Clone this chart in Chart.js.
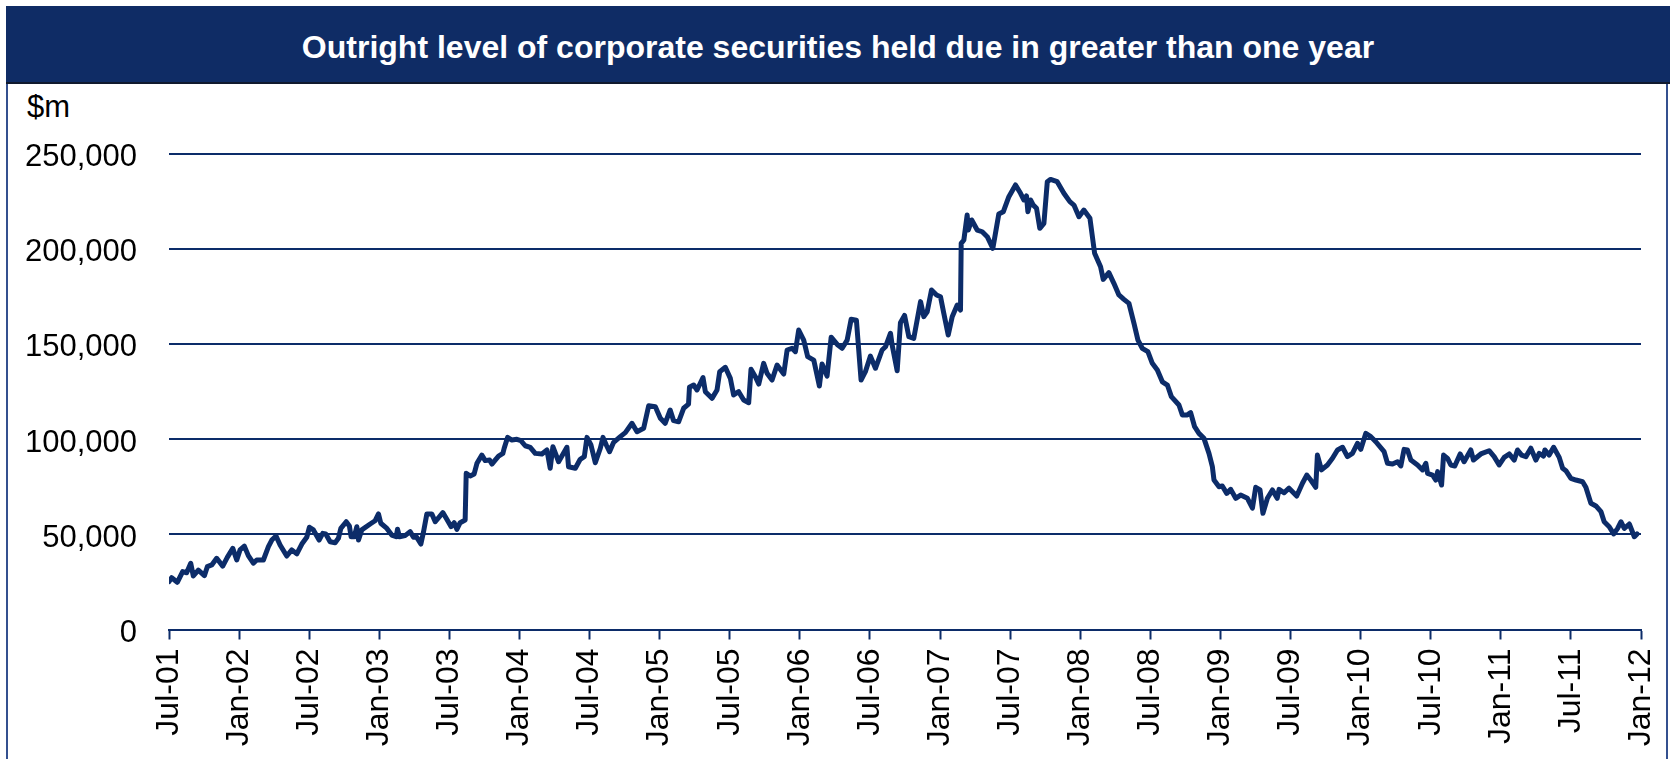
<!DOCTYPE html>
<html>
<head>
<meta charset="utf-8">
<script src="https://cdn.jsdelivr.net/npm/chart.js@4.4.0/dist/chart.umd.min.js"></script>
<style>
    body { margin: 0; background: #fff; width: 1676px; height: 759px; overflow: hidden; position: relative; font-family: 'Liberation Sans', Arial, sans-serif; }
    #frame { position: absolute; left: 6px; top: 6px; width: 1662px; height: 780px; border: 2px solid #34508f; box-sizing: border-box; }
    #titleBar { position: absolute; left: 6px; top: 6px; width: 1664px; height: 78px; padding-top: 6px; background: #0f2c65; border-bottom: 2px solid #111a2e; box-sizing: border-box; color: #fff; font-weight: bold; font-size: 32px; text-align: center; line-height: 70px; }
    #unit { position: absolute; left: 27px; top: 89px; font-size: 31px; color: #000; }
    #chartBox { position: absolute; left: 0; top: 85px; width: 1676px; height: 674px; }
</style>
</head>
<body>
<div id="frame"></div>
<div id="titleBar">Outright level of corporate securities held due in greater than one year</div>
<div id="unit">$m</div>
<div id="chartBox"><canvas id="corpChart"></canvas></div>
<script>
// months since Jul-01 for each reading
var months = [
    0.00, 0.23, 0.71, 1.17, 1.51, 1.86, 2.08, 2.51, 3.03, 3.28, 3.66, 4.08, 4.60, 4.99, 5.46, 5.80,
    6.08, 6.45, 6.79, 7.22, 7.51, 8.08, 8.51, 8.80, 9.16, 9.51, 10.08, 10.51, 10.94, 11.37, 11.79,
    12.02, 12.36, 12.85, 13.16, 13.42, 13.79, 14.22, 14.50, 14.71, 15.17, 15.44, 15.59, 15.85, 16.08,
    16.22, 16.50, 17.22, 17.64, 17.93, 18.13, 18.65, 19.07, 19.45, 19.56, 19.73, 20.21, 20.64, 20.93,
    21.21, 21.56, 21.79, 22.07, 22.50, 22.79, 23.44, 23.78, 24.15, 24.41, 24.64, 24.92, 25.35, 25.44,
    25.78, 26.12, 26.36, 26.78, 27.07, 27.44, 27.64, 27.92, 28.21, 28.58, 28.69, 28.98, 29.35, 29.78,
    30.12, 30.49, 30.92, 31.35, 31.92, 32.35, 32.63, 32.86, 33.35, 34.06, 34.20, 34.78, 35.20, 35.55,
    35.78, 36.12, 36.49, 36.92, 37.15, 37.43, 37.71, 38.06, 38.63, 39.06, 39.63, 40.06, 40.63, 41.06,
    41.63, 42.06, 42.47, 42.90, 43.19, 43.62, 44.05, 44.47, 44.55, 44.91, 45.20, 45.71, 45.91, 46.48,
    46.91, 47.14, 47.62, 48.05, 48.33, 48.76, 49.19, 49.62, 49.82, 50.19, 50.48, 50.90, 51.19, 51.62,
    52.05, 52.62, 52.91, 53.33, 53.62, 53.90, 54.33, 54.67, 55.19, 55.67, 55.90, 56.33, 56.68, 57.25,
    57.62, 58.05, 58.39, 58.84, 59.24, 59.61, 60.04, 60.47, 61.04, 61.33, 61.76, 61.90, 62.33, 62.61,
    62.96, 63.33, 63.75, 64.33, 64.61, 64.90, 65.27, 65.70, 66.04, 66.32, 66.70, 67.04, 67.47, 67.75,
    67.81, 68.04, 68.32, 68.42, 68.71, 69.18, 69.61, 70.04, 70.52, 71.03, 71.41, 71.89, 72.46, 72.89,
    73.17, 73.40, 73.52, 73.75, 73.98, 74.26, 74.54, 74.89, 75.18, 75.46, 76.03, 76.60, 77.11, 77.46,
    77.89, 78.31, 78.83, 79.23, 79.74, 79.97, 80.45, 80.88, 81.31, 81.74, 82.17, 82.60, 82.94, 83.31,
    83.79, 84.17, 84.60, 85.03, 85.46, 85.80, 86.45, 86.74, 87.17, 87.45, 87.79, 88.16, 88.59, 89.02,
    89.31, 89.45, 89.88, 90.16, 90.54, 90.88, 91.31, 91.73, 92.31, 92.74, 93.02, 93.39, 93.64, 94.02,
    94.45, 94.86, 95.02, 95.44, 95.87, 96.53, 97.02, 97.39, 97.73, 98.16, 98.30, 98.65, 99.16, 99.59,
    100.02, 100.45, 100.87, 101.30, 101.73, 102.01, 102.44, 102.87, 103.30, 104.01, 104.30, 104.73,
    105.16, 105.44, 105.72, 106.01, 106.30, 106.87, 107.30, 107.58, 107.73, 108.16, 108.44, 108.59,
    108.93, 109.10, 109.44, 109.72, 110.06, 110.52, 110.86, 111.43, 111.66, 112.29, 113.00, 113.43,
    113.86, 114.29, 114.72, 115.15, 115.43, 115.78, 116.15, 116.57, 117.00, 117.29, 117.66, 117.77,
    118.14, 118.52, 119.00, 119.29, 119.57, 120.00, 120.43, 121.00, 121.28, 121.71, 122.14, 122.57,
    122.85, 123.28, 123.66, 124.00, 124.28, 124.57, 125.00, 125.43, 125.66
];

// holdings, $m
var holdings = [
    25100, 27200, 24800, 30400, 29800, 34800, 28100, 31200, 28300, 33000, 33900, 37400, 33300, 37900, 42600, 36500,
    41800, 43800, 38800, 34800, 36500, 36500, 43500, 47000, 49100, 44400, 38600, 41800, 39700, 44900, 48400,
    53700, 52300, 47000, 50500, 50200, 46100, 45600, 47900, 53100, 56600, 54400, 48700, 48700, 54000,
    47000, 52300, 55400, 57100, 60700, 55800, 53100, 49600, 48700, 52700, 48700, 49300, 51400, 48400,
    48400, 44900, 51400, 60700, 60700, 56600, 61400, 57900, 54000, 56100, 52600, 56100, 57500, 82000,
    80600, 81700, 87300, 91600, 88700, 89000, 86900, 89000, 91100, 92500, 95200, 100900, 99500, 99900,
    99200, 96500, 95700, 92500, 92200, 94300, 84700, 96000, 88100, 95700, 85500, 84700, 89400, 90800,
    100900, 96900, 87600, 95200, 100900, 96900, 93400, 98300, 101300, 103400, 108300, 103900, 105700, 117500,
    117000, 110900, 108300, 115300, 109700, 109100, 116200, 118400, 127200, 128400, 125800, 132300, 124900, 121400,
    125800, 135400, 137700, 131900, 123200, 124900, 120500, 119100, 136700, 132800, 128900, 139800, 134600, 131000,
    138900, 134200, 146800, 147700, 145900, 157300, 152000, 143300, 141500, 127900, 139400, 133100, 153500, 149400,
    147700, 152000, 162900, 162500, 131000, 135400, 143600, 137200, 146800, 148500, 155600, 149400, 135900, 161100,
    165000, 153800, 152900, 172200, 164300, 166900, 178300, 175700, 174800, 166100, 154700, 164300, 170400, 167800,
    202800, 204600, 217700, 209800, 215100, 209800, 208900, 206300, 200200, 218200, 219400, 227300, 233500, 229100,
    225600, 227700, 219400, 225600, 222900, 221200, 210700, 213300, 235200, 236400, 235200, 229100, 224700, 222900,
    216800, 220300, 216000, 197600, 190500, 183900, 187400, 181800, 175700, 173400, 171300, 160800, 152000, 147700,
    145900, 139800, 136300, 130100, 128400, 122300, 117900, 112700, 112700, 113900, 106500, 103000, 100400, 92500,
    85500, 78500, 75000, 75400, 71500, 73600, 68900, 70600, 68900, 63700, 74700, 73300, 61000, 68900,
    73300, 68900, 73600, 71800, 74200, 70100, 76800, 81100, 78500, 74700, 91600, 83800, 86400, 89900,
    94300, 95700, 90800, 92500, 97800, 94600, 103000, 101300, 98600, 93400, 87300, 86900,
    88100, 85900, 94600, 94300, 89000, 86400, 83800, 87300, 82000, 81100, 78500, 82900,
    75900, 91600, 89900, 86400, 85900, 92200, 88100, 94300, 89000, 92200, 93900, 90800,
    86400, 90400, 92200, 89000, 94300, 91600, 90800, 95200, 89000, 92500, 91100, 94300,
    91600, 95700, 90400, 84700, 83400, 79400, 78500, 77600, 74700, 66300, 64900, 61900,
    56600, 54000, 50200, 53100, 56600, 53100, 55400, 48700, 50200
];

var tickLabels = ['Jul-01', 'Jan-02', 'Jul-02', 'Jan-03', 'Jul-03', 'Jan-04', 'Jul-04', 'Jan-05',
    'Jul-05', 'Jan-06', 'Jul-06', 'Jan-07', 'Jul-07', 'Jan-08', 'Jul-08', 'Jan-09', 'Jul-09',
    'Jan-10', 'Jul-10', 'Jan-11', 'Jul-11', 'Jan-12'];

var yTicks = [0, 50000, 100000, 150000, 200000, 250000];

var navy = '#0c2c69';
var fontFamily = "'Liberation Sans', Arial, sans-serif";

var points = months.map(function (m, i) { return { x: m, y: holdings[i] }; });

var ctx = document.getElementById('corpChart').getContext('2d');
var corpChart = new Chart(ctx, {
    type: 'line',
    data: {
        datasets: [{
            label: 'Corporate securities',
            data: points,
            borderColor: navy,
            borderWidth: 5,
            borderJoinStyle: 'round',
            borderCapStyle: 'round',
            pointRadius: 0,
            tension: 0,
            fill: false
        }]
    },
    options: {
        responsive: true,
        maintainAspectRatio: false,
        animation: false,
        scales: {
            x: {
                type: 'linear',
                min: 0,
                max: 126,
                afterFit: function (scale) {
                    scale.height = 129.5;
                    // keep the plot edges fixed, rotated labels fit anyway
                    scale.paddingLeft = 0;
                    scale.paddingRight = 0;
                },
                afterBuildTicks: function (scale) {
                    scale.ticks = tickLabels.map(function (l, i) { return { value: i * 6 }; });
                },
                grid: {
                    drawOnChartArea: false,
                    drawTicks: true,
                    tickLength: 10,
                    tickWidth: 2,
                    tickColor: navy
                },
                border: { display: true, color: navy, width: 2 },
                ticks: {
                    autoSkip: false,
                    minRotation: 90,
                    maxRotation: 90,
                    padding: 9,
                    color: '#000',
                    font: { family: fontFamily, size: 32 },
                    callback: function (v) { return tickLabels[Math.round(v / 6)]; }
                }
            },
            y: {
                min: 0,
                max: 250000,
                afterFit: function (scale) { scale.width = 169; },
                afterBuildTicks: function (scale) {
                    scale.ticks = yTicks.map(function (v) { return { value: v }; });
                },
                grid: {
                    color: navy,
                    lineWidth: 2,
                    drawTicks: false
                },
                border: { display: false },
                ticks: {
                    padding: 32,
                    labelOffset: 4,
                    color: '#000',
                    font: { family: fontFamily, size: 31 },
                    callback: function (v) { return v.toLocaleString('en-US'); }
                }
            }
        },
        plugins: {
            legend: { display: false },
            tooltip: { enabled: false }
        },
        layout: {
            padding: {
                left: 0,
                right: 35,
                top: 68.5,
                bottom: 0
            }
        }
    }
});
</script>
</body>
</html>
